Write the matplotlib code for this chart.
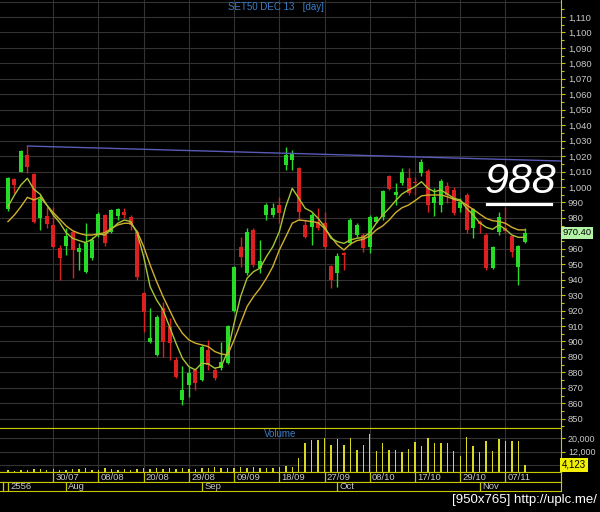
import numpy as np
import matplotlib
matplotlib.use('Agg')
import matplotlib.pyplot as plt
from matplotlib.lines import Line2D

# ---- datos (SET50 DEC 13, diario) ----
opens = [985.5, 1004.9, 1009.9, 1020.7, 1008.4, 979.7, 981.2, 975.4, 960.3, 961.8,
         971.1, 958.1, 945.2, 953.8, 969.6, 981.9, 971.1, 981.2, 984.0, 980.8,
         971.1, 931.2, 899.5, 891.3, 921.5, 909.6, 888.0, 862.0, 872.0, 881.6,
         875.1, 894.5, 881.6, 882.6, 886.3, 920.0, 960.9, 944.1, 972.2, 947.4,
         981.9, 981.9, 988.3, 1014.2, 1017.5, 1012.1, 975.4, 974.3, 977.6, 976.5,
         948.9, 944.1, 957.1, 963.5, 968.9, 968.9, 961.4, 977.6, 980.8, 1007.1,
         994.8, 1002.4, 1005.6, 1003.4, 1008.9, 1010.6, 989.4, 988.3, 1000.6, 998.0,
         986.2, 994.8, 973.2, 977.6, 968.9, 947.4, 971.1, 973.2, 968.3, 948.4,
         964.6]
highs = [1006.2, 1005.6, 1023.9, 1026.5, 1009.3, 994.8, 987.3, 987.3, 962.5, 973.2,
         972.2, 963.5, 976.5, 967.8, 984.0, 982.5, 985.5, 986.2, 986.2, 981.9,
         972.2, 932.3, 921.5, 917.2, 925.8, 915.0, 890.2, 884.0, 883.7, 882.6,
         897.8, 901.1, 883.7, 899.9, 910.7, 948.9, 967.8, 973.2, 973.2, 965.7,
         989.4, 989.4, 993.7, 1026.1, 1023.9, 1013.1, 978.6, 983.0, 986.2, 984.0,
         949.5, 957.1, 958.1, 979.7, 976.5, 970.0, 981.9, 981.2, 998.0, 1007.8,
         1002.4, 1012.1, 1012.1, 1006.7, 1017.9, 1011.4, 999.1, 1004.9, 1003.4, 999.8,
         992.7, 995.9, 986.2, 978.6, 970.0, 961.8, 984.0, 987.3, 968.9, 962.5,
         973.2]
lows = [984.7, 995.9, 1009.5, 1008.9, 976.5, 972.2, 973.2, 960.3, 939.8, 956.0,
        940.9, 946.3, 944.1, 952.7, 967.8, 961.8, 970.0, 978.6, 979.7, 972.2,
        939.8, 906.4, 898.8, 890.6, 890.2, 888.0, 876.2, 859.0, 864.3, 868.6,
        874.7, 881.6, 875.1, 881.6, 885.4, 919.3, 948.4, 943.0, 948.4, 944.5,
        978.6, 980.8, 976.5, 1011.0, 1011.0, 978.6, 966.8, 962.5, 972.2, 959.6,
        934.4, 935.5, 946.3, 962.5, 967.8, 958.1, 957.5, 976.5, 978.6, 998.0,
        988.3, 1001.3, 994.8, 994.8, 1007.1, 984.0, 981.2, 984.0, 989.4, 981.9,
        984.0, 970.4, 966.8, 970.0, 946.3, 946.7, 968.9, 970.0, 954.9, 936.6,
        964.0]
closes = [1005.6, 1001.2, 1023.5, 1013.1, 977.6, 992.0, 976.0, 961.4, 953.8, 968.3,
          959.2, 960.3, 963.5, 965.7, 982.5, 963.5, 985.1, 985.5, 981.9, 975.4,
          942.0, 919.3, 902.5, 916.1, 899.9, 898.8, 877.3, 868.6, 879.4, 872.9,
          896.3, 884.8, 876.2, 887.0, 910.0, 948.4, 954.5, 971.1, 949.5, 952.3,
          988.3, 986.2, 983.0, 1020.7, 1021.8, 984.0, 967.8, 981.9, 973.2, 960.9,
          939.8, 955.3, 956.0, 978.6, 975.4, 960.3, 980.8, 980.4, 997.6, 998.5,
          997.0, 1009.9, 995.9, 1002.4, 1016.4, 988.3, 993.7, 1004.1, 994.8, 983.4,
          990.5, 972.2, 985.5, 976.0, 947.4, 961.4, 980.8, 971.7, 958.1, 961.8,
          970.4]
ma_fast = [987.3, 994.8, 1001.3, 1005.6, 998.5, 995.2, 988.3, 981.9, 976.9, 970.4,
           966.8, 965.3, 964.0, 966.1, 969.6, 968.9, 972.6, 976.5, 978.6, 977.6,
           970.0, 954.9, 935.5, 926.9, 920.4, 909.6, 898.9, 889.1, 883.7, 881.6,
           885.9, 885.5, 882.7, 883.7, 893.5, 911.8, 929.0, 940.9, 945.2, 947.4,
           954.9, 961.4, 971.1, 987.3, 999.1, 992.7, 986.2, 984.0, 979.7, 974.3,
           966.8, 964.6, 963.5, 965.7, 966.8, 967.4, 970.4, 976.5, 981.9, 986.2,
           991.1, 995.5, 998.0, 1000.2, 1003.4, 999.1, 997.0, 998.0, 995.5, 992.7,
           991.6, 986.2, 981.9, 976.9, 973.9, 972.6, 975.4, 972.6, 968.9, 967.4,
           967.4]
ma_slow = [977.6, 981.9, 987.3, 993.3, 991.6, 993.3, 988.3, 983.4, 979.1, 974.8,
           971.7, 970.0, 968.9, 968.9, 969.6, 970.4, 973.2, 975.4, 976.5, 976.5,
           971.1, 961.4, 949.5, 938.8, 929.0, 920.4, 911.8, 905.3, 901.0, 898.9,
           897.8, 896.7, 893.5, 891.9, 891.3, 901.0, 911.8, 922.6, 929.0, 934.4,
           940.9, 948.5, 959.2, 967.8, 976.5, 978.6, 978.2, 977.6, 976.9, 973.2,
           967.8, 962.5, 959.2, 963.1, 965.3, 966.1, 968.3, 972.2, 974.8, 978.6,
           983.4, 986.6, 988.3, 991.1, 994.2, 994.8, 994.8, 994.8, 993.7, 992.0,
           990.9, 988.3, 985.5, 982.5, 979.7, 978.2, 977.6, 976.5, 973.9, 972.2,
           972.2]
volume = [1100, 700, 1100, 1100, 1500, 1500, 1100, 1500, 1100, 1100,
          1700, 1500, 2100, 1100, 1100, 2100, 1700, 1100, 1500, 1100,
          1700, 2100, 1500, 2100, 1500, 2500, 1500, 2100, 1700, 1500,
          2100, 2500, 3100, 2500, 2100, 2500, 3100, 2500, 3100, 2500,
          2100, 2500, 3100, 3700, 3100, 8000, 17400, 19000, 19000, 20000,
          16000, 19400, 16000, 20000, 13000, 16000, 22600, 12400, 17400, 13000,
          13000, 12000, 13400, 18000, 15600, 20000, 17000, 17400, 17000, 12400,
          9400, 20600, 15600, 12000, 18600, 12700, 19400, 18600, 18400, 18600,
          4123]

# linea de tendencia (barra, precio)
trend_x = [3, 85.6]
trend_y = [1026.5, 1016.8]

date_pos = [7, 14, 21, 28, 35, 42, 49, 56, 63, 70, 77]
date_labels = ['30/07', '08/08', '20/08', '29/08', '09/09', '18/09', '27/09',
               '08/10', '17/10', '29/10', '07/11']
month_pos = [0, 9, 30, 51, 73]
month_labels = ['2556', 'Aug', 'Sep', 'Oct', 'Nov']
price_ticks = list(range(850, 1111, 10))
vol_ticks = [12000, 20000]

W, H = 600, 512
BG = 'black'
YEL = '#c8c800'
GRID = '#333333'
TXT = '#c8c8c8'
FONT = 'Liberation Sans'
plt.rcParams['font.family'] = [FONT, 'DejaVu Sans']


def box(x0, y0, x1, y1):
    return [x0 / W, 1 - y1 / H, (x1 - x0) / W, (y1 - y0) / H]


fig = plt.figure(figsize=(W / 100, H / 100), dpi=100, facecolor=BG)
ax = fig.add_axes(box(0, 0, 561, 428), facecolor=BG)
axv = fig.add_axes(box(0, 428, 561, 471.8), facecolor=BG)
axd = fig.add_axes(box(0, 471.8, 561, 481.7), facecolor=BG)
axm = fig.add_axes(box(0, 481.7, 561, 491), facecolor=BG)

xlim = (-1.238, 85.6)
o = np.array(opens); h = np.array(highs); l = np.array(lows); c = np.array(closes)
x = np.arange(len(c))
cols = np.where(c >= o, '#26dc26', '#dc2020')

# --- panel de precios ---
for yv in range(850, 1121, 10):
    ax.axhline(yv, color=GRID, lw=0.8, zorder=0)
for p in date_pos:
    ax.axvline(p, color=GRID, lw=0.8, zorder=0)
ax.vlines(x, l, h, colors=cols, lw=1, zorder=2)
ax.bar(x, np.maximum(np.abs(c - o), 0.8), bottom=np.minimum(o, c), width=0.62,
       color=cols, zorder=3)
ax.plot(x, ma_slow, color='#d2b02c', lw=1, zorder=4)
ax.plot(x, ma_fast, color='#a8c634', lw=1, zorder=4)
ax.plot(trend_x, trend_y, color='#5a5ab8', lw=1, zorder=4)

ax.set_xlim(xlim)
ax.set_ylim(844.0, 1121.0)
ax.set_xticks([])
ax.yaxis.tick_right()
ax.set_yticks(price_ticks)
ax.set_yticks(np.arange(845, 1116, 10), minor=True)
# la etiqueta 970 queda tapada por el recuadro del ultimo precio
ax.set_yticklabels(['' if v == 970 else f'{v:,}' for v in price_ticks])
ax.tick_params(axis='y', which='both', colors=YEL, labelcolor=TXT, labelsize=6.8,
               length=3, width=0.8, pad=2)
ax.tick_params(axis='y', which='minor', length=2)
for s in ['top', 'left']:
    ax.spines[s].set_visible(False)
ax.spines['right'].set_color(YEL)
ax.spines['bottom'].set_color(YEL)

ax.text(1.002, closes[-1], f'{closes[-1]:.2f}', transform=ax.get_yaxis_transform(),
        ha='left', va='center', fontsize=6.8, color='black', zorder=6, clip_on=False,
        bbox=dict(boxstyle='square,pad=0.15', fc='#b4f2a8', ec='none'))

# --- volumen ---
for yv in [4000, 12000, 20000]:
    axv.axhline(yv, color=GRID, lw=0.8, zorder=0)
for p in date_pos:
    axv.axvline(p, color=GRID, lw=0.8, zorder=0)
axv.bar(x, volume, width=0.22, color='#d8d820', zorder=2)
axv.set_xlim(xlim)
axv.set_ylim(0, 26150)
axv.set_xticks([])
axv.yaxis.tick_right()
axv.set_yticks(vol_ticks)
axv.set_yticklabels([f'{v:,}' for v in vol_ticks])
axv.tick_params(axis='y', colors=YEL, labelcolor=TXT, labelsize=6.5, length=3, width=0.8, pad=2)
axv.spines['left'].set_visible(False)
for s in ['top', 'right', 'bottom']:
    axv.spines[s].set_color(YEL)
axv.text(0.5, 0.86, 'Volume', transform=axv.transAxes, ha='center', va='center',
         fontsize=7, color='#3a80c8')
axv.text(1.002, volume[-1], f'{volume[-1]:,}', transform=axv.get_yaxis_transform(),
         ha='left', va='center', fontsize=7, color='black', zorder=6, clip_on=False,
         bbox=dict(boxstyle='square,pad=0.18', fc='#f0f000', ec='none'))

# --- fechas y meses ---
for a, pos, labs in [(axd, date_pos, date_labels), (axm, month_pos, month_labels)]:
    a.set_xlim(xlim)
    a.set_ylim(0, 1)
    a.set_xticks([])
    a.set_yticks([])
    for s in a.spines.values():
        s.set_color(YEL)
    a.spines['left'].set_visible(False)
    for p, t in zip(pos, labs):
        a.axvline(p, color=YEL, lw=0.9)
        a.text(p + 0.35, 0.45, t, fontsize=6.8, color=TXT, ha='left', va='center')
fig.add_artist(Line2D([2.7 / W, 2.7 / W], [1 - 491 / H, 1 - 481.7 / H], color=YEL, lw=0.9))

# --- textos ---
fig.text(276 / W, 1 - 7 / H, 'SET50 DEC 13   [day]', color='#3a80c8', fontsize=7,
         ha='center', va='center')
fig.text(520 / W, 1 - 182 / H, '988', color='white', fontsize=31, style='italic',
         ha='center', va='center')
fig.add_artist(Line2D([487 / W, 551 / W], [1 - 204 / H, 1 - 204 / H], color='white', lw=2.3))
fig.text(597 / W, 1 - 500 / H, '[950x765] http://uplc.me/', color='white', fontsize=9.5,
         ha='right', va='center')

fig.savefig('out.png', dpi=100, facecolor=BG)
